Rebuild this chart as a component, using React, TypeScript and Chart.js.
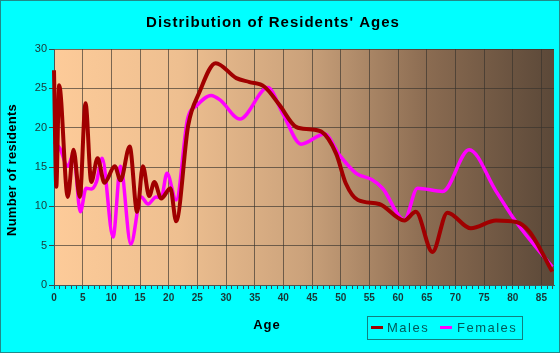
import React, { useEffect, useRef } from "react";
import { Chart, registerables } from "chart.js";

Chart.register(...registerables);

const maleAges = [0, 0.4, 0.9, 2.4, 3.4, 4.5, 5.5, 6.5, 7.6, 8.8, 10.6, 11.6, 13.2, 14.5, 15.5, 16.6, 17.5, 18.7, 20.3, 21.3, 23.4, 25.3, 28.2, 31.8, 34.1, 36.7, 39.3, 42.2, 44.5, 46.6, 49.2, 50.9, 53, 56.7, 61.1, 63.1, 66, 68.6, 72.7, 77.1, 80.6, 82.9, 86.9];
const maleValues = [27.3, 12.5, 25.4, 11.2, 17.2, 11.2, 23.1, 13.1, 16.1, 13.0, 15.1, 13.3, 17.6, 9.3, 15.1, 11.3, 13.1, 11.0, 12.3, 8.1, 20.3, 24.4, 28.2, 26.3, 25.8, 25.2, 22.9, 20.1, 19.8, 19.5, 16.7, 12.9, 10.8, 10.3, 8.2, 9.3, 4.2, 9.2, 7.2, 8.2, 8.0, 6.8, 1.7];

const femaleAges = [0, 1, 2.4, 3.4, 4.6, 5.6, 6.5, 7.4, 8.4, 10.3, 11.6, 13.4, 15.2, 16.4, 17.8, 18.7, 19.7, 21.3, 23.3, 24.9, 27.4, 29, 32.4, 37.3, 39.9, 43.1, 47.2, 49.8, 52.7, 55.4, 57.3, 61.1, 63.4, 67.8, 72.4, 77.1, 80.6, 86.9];
const femaleValues = [18.2, 17.4, 15.1, 16.7, 9.3, 12.3, 12.2, 13.1, 16.1, 6.1, 15.1, 5.2, 11.2, 10.3, 11.2, 11.1, 14.2, 10.8, 21.1, 22.8, 24.1, 23.5, 21.1, 25.1, 21.8, 17.9, 19.2, 16.5, 14.2, 13.4, 12.3, 8.3, 12.3, 11.9, 17.2, 11.9, 8.0, 2.3];

const xMin = 0;
const xMax = 87.2;
const yTicks = [0, 5, 10, 15, 20, 25, 30];

const titleText = "Distribution of Residents' Ages";
const xTitle = "Age";
const yTitle = "Number of residents";
const seriesNames = ["Males", "Females"];
const seriesColors = ["#a00000", "#ff00ff"];

const decorPlugin = {
  id: "decor",
  beforeDraw(chart: any) {
    const { ctx, chartArea: a, width, height } = chart;
    ctx.save();
    ctx.fillStyle = "#00ffff";
    ctx.fillRect(0, 0, width, height);
    ctx.strokeStyle = "#208a8a";
    ctx.lineWidth = 1;
    ctx.strokeRect(0.5, 0.5, width - 1, height - 1);
    const g = ctx.createLinearGradient(a.left, 0, a.right, 0);
    g.addColorStop(0, "#fdcb99");
    g.addColorStop(0.25, "#eebf90");
    g.addColorStop(0.5, "#cba27b");
    g.addColorStop(0.75, "#8a6b51");
    g.addColorStop(1, "#5b4838");
    ctx.fillStyle = g;
    ctx.fillRect(a.left, a.top, a.right - a.left, a.bottom - a.top);
    ctx.restore();
  },
  afterDraw(chart: any) {
    const { ctx } = chart;
    ctx.save();
    ctx.fillStyle = "#000";
    ctx.textBaseline = "middle";
    ctx.textAlign = "center";
    ctx.font = "bold 15px Arial, 'Liberation Sans', sans-serif";
    (ctx as any).letterSpacing = "1px";
    ctx.fillText(titleText, 273, 23);

    ctx.font = "bold 13px Arial, 'Liberation Sans', sans-serif";
    (ctx as any).letterSpacing = "1px";
    ctx.fillText(xTitle, 267, 325);

    ctx.save();
    ctx.translate(12, 170);
    ctx.rotate(-Math.PI / 2);
    (ctx as any).letterSpacing = "0.3px";
    ctx.fillText(yTitle, 0, 0);
    ctx.restore();

    // legend
    ctx.strokeStyle = "#108080";
    ctx.lineWidth = 1;
    ctx.strokeRect(367.5, 316.5, 155, 23);
    const items = [
      { lx: 371, tx: 387 },
      { lx: 440, tx: 457 },
    ];
    ctx.font = "13px Arial, 'Liberation Sans', sans-serif";
    (ctx as any).letterSpacing = "1.5px";
    ctx.textAlign = "left";
    items.forEach((it, i) => {
      ctx.strokeStyle = seriesColors[i];
      ctx.lineWidth = 3;
      ctx.beginPath();
      ctx.moveTo(it.lx, 327.5);
      ctx.lineTo(it.lx + 12, 327.5);
      ctx.stroke();
      ctx.fillStyle = "#005a5a";
      ctx.fillText(seriesNames[i], it.tx, 328);
    });
    ctx.restore();
  },
};

export default function App() {
  const ref = useRef<HTMLCanvasElement>(null);
  useEffect(() => {
    if (!ref.current) return;
    const chart = new Chart(ref.current, {
      type: "line",
      data: {
        datasets: [
          {
            label: seriesNames[0],
            data: maleAges.map((x, i) => ({ x, y: maleValues[i] })),
            borderColor: seriesColors[0],
            borderWidth: 4,
            pointRadius: 0,
            cubicInterpolationMode: "monotone",
            clip: { left: 2, top: 4, right: 0, bottom: 0 },
          },
          {
            label: seriesNames[1],
            data: femaleAges.map((x, i) => ({ x, y: femaleValues[i] })),
            borderColor: seriesColors[1],
            borderWidth: 3.5,
            pointRadius: 0,
            cubicInterpolationMode: "monotone",
            clip: { left: 2, top: 4, right: 0, bottom: 0 },
          },
        ],
      },
      options: {
        animation: false,
        responsive: false,
        layout: { padding: { left: 0, top: 49, right: 6, bottom: 0 } },
        plugins: { legend: { display: false }, title: { display: false }, tooltip: { enabled: false } },
        scales: {
          x: {
            type: "linear",
            min: xMin,
            max: xMax,
            afterFit: (s: any) => { s.height = 68; },
            afterBuildTicks: (s: any) => {
              const t = [];
              for (let v = 0; v <= Math.floor(xMax); v++) t.push({ value: v });
              s.ticks = t;
            },
            ticks: {
              autoSkip: false,
              maxRotation: 0,
              padding: 3,
              color: "#1a3535",
              font: { family: "Arial, 'Liberation Sans', sans-serif", size: 10, weight: "bold" },
              callback: (v: any) => (v % 5 === 0 ? String(v) : ""),
            },
            grid: {
              color: (c: any) => (c.tick && c.tick.value % 5 === 0 && c.tick.value !== 0 ? "rgba(55,50,45,0.65)" : "rgba(0,0,0,0)"),
              tickColor: "#3a4a4a",
              tickLength: 4,
              lineWidth: 1,
            },
            border: { display: true, color: "#4a5555", width: 1 },
          },
          y: {
            min: 0,
            max: 30,
            afterFit: (s: any) => { s.width = 54; },
            afterBuildTicks: (s: any) => { s.ticks = yTicks.map((v) => ({ value: v })); },
            ticks: {
              padding: 2,
              color: "#1a3535",
              font: { family: "Arial, 'Liberation Sans', sans-serif", size: 11 },
            },
            grid: {
              color: (c: any) => (c.tick && c.tick.value !== 0 ? "rgba(55,50,45,0.65)" : "rgba(0,0,0,0)"),
              tickColor: "#3a4a4a",
              tickLength: 5,
              lineWidth: 1,
            },
            border: { display: true, color: "#4a5555", width: 1 },
          },
        },
      },
      plugins: [decorPlugin],
    } as any);
    return () => chart.destroy();
  }, []);
  return (
    <div style={{ position: "fixed", left: 0, top: 0, width: 560, height: 353 }}>
      <canvas ref={ref} width={560} height={353} style={{ width: 560, height: 353, display: "block" }} />
    </div>
  );
}
